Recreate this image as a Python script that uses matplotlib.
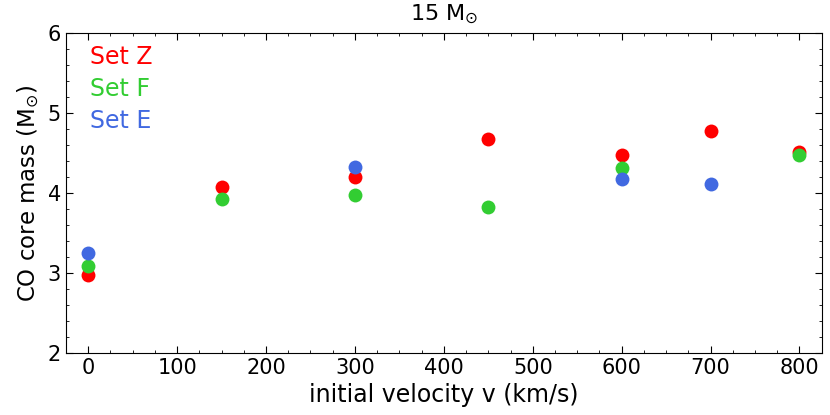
import matplotlib
matplotlib.use("Agg")
import matplotlib.pyplot as plt
from matplotlib.ticker import MultipleLocator

# initial rotation velocity (km/s) and CO core mass (Msun) per set
v_z = [0, 150, 300, 450, 600, 700, 800]
co_z = [2.97, 4.07, 4.20, 4.67, 4.48, 4.77, 4.51]

v_f = [0, 150, 300, 450, 600, 800]
co_f = [3.09, 3.92, 3.97, 3.83, 4.31, 4.48]

v_e = [0, 300, 600, 700]
co_e = [3.25, 4.33, 4.17, 4.11]

sets = [("Set Z", v_z, co_z, "red"),
        ("Set F", v_f, co_f, "limegreen"),
        ("Set E", v_e, co_e, "royalblue")]

fig = plt.figure(figsize=(8.3, 4.15), dpi=100)
ax = fig.add_axes([0.0795, 0.1494, 0.9105, 0.7711])

for i, (name, v, co, col) in enumerate(sets):
    ax.plot(v, co, "o", ms=10, color=col, mec="none")
    ax.text(0.032, 0.925 - i * 0.1, name, color=col, fontsize=17,
            transform=ax.transAxes, va="center")

ax.set_xlim(-25, 825)
ax.set_ylim(2, 6)
ax.xaxis.set_major_locator(MultipleLocator(100))
ax.xaxis.set_minor_locator(MultipleLocator(25))
ax.yaxis.set_major_locator(MultipleLocator(1))
ax.yaxis.set_minor_locator(MultipleLocator(0.2))
ax.tick_params(which="both", direction="in", top=True, right=True, labelsize=15)
ax.tick_params(which="major", length=5)
ax.tick_params(which="minor", length=2.5)

ax.set_xlabel("initial velocity v (km/s)", fontsize=17, labelpad=4)
ax.set_ylabel(r"CO core mass (M$_{\odot}$)", fontsize=16.5, labelpad=4)
ax.set_title(r"15 M$_{\odot}$", fontsize=16, pad=9)

fig.savefig("out.png", dpi=100)
